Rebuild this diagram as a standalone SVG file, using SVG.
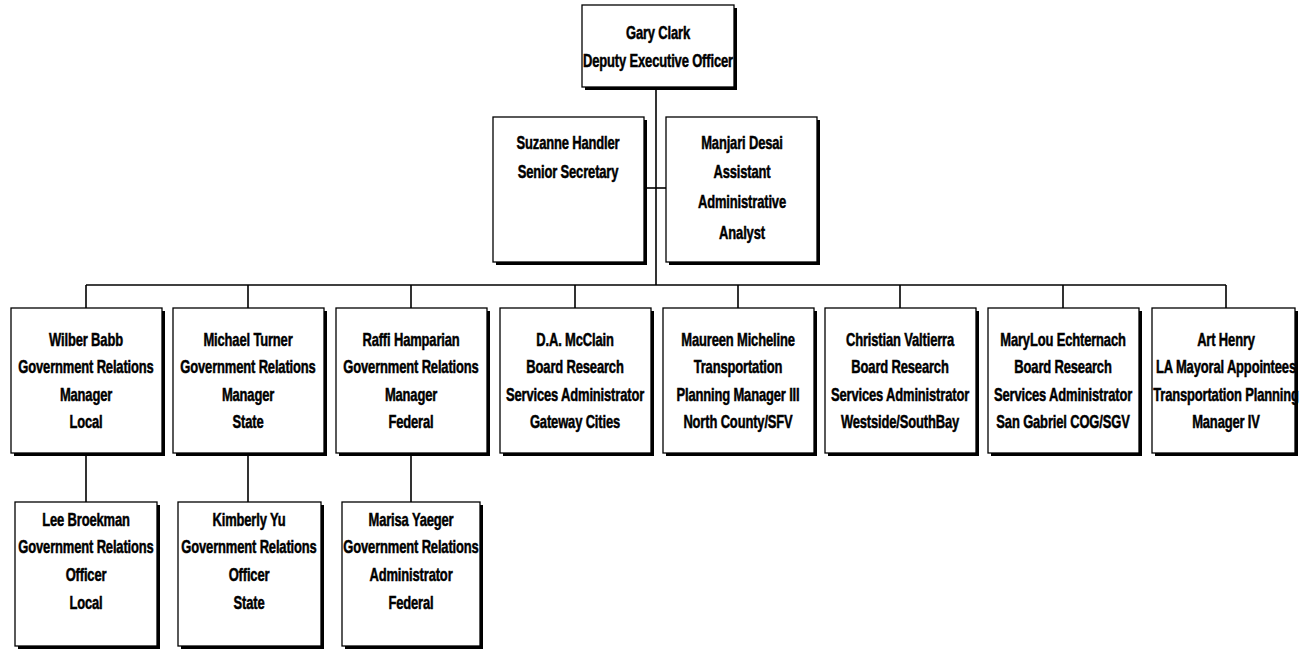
<svg xmlns="http://www.w3.org/2000/svg" width="1300" height="652" viewBox="0 0 1300 652">
<style>
.sh{fill:#000}
.bx{fill:#fff;stroke:#000;stroke-width:1.3}
.t{font-family:"Liberation Sans Narrow","Liberation Sans",Arial,sans-serif;font-weight:bold;font-size:18px;text-anchor:middle;fill:#000;stroke:#000;stroke-width:0.5;letter-spacing:-0.2px}
.c{stroke:#000;stroke-width:1.6;fill:none}
</style>
<rect width="1300" height="652" fill="#fff"/>
<g id="connectors">
<path class="c" d="M656,87 V285"/>
<path class="c" d="M644,188 H666"/>
<path class="c" d="M86,285 H1226"/>
<path class="c" d="M86,285 V308 M248,285 V308 M411,285 V308 M575,285 V308 M738,285 V308 M900,285 V308 M1063,285 V308 M1226,285 V308"/>
<path class="c" d="M86,453 V502 M248,453 V502 M411,453 V502"/>
</g>
<g id="gary">
<rect class="sh" x="585" y="8" width="152" height="82"/>
<rect class="bx" x="582" y="5" width="152" height="82"/>
<g transform="translate(658 0) scale(0.72 1)">
<text class="t" x="0" y="39">Gary Clark</text>
<text class="t" x="0" y="67">Deputy Executive Officer</text>
</g>
</g>
<g id="suzanne">
<rect class="sh" x="496" y="120" width="151" height="145"/>
<rect class="bx" x="493" y="117" width="151" height="145"/>
<g transform="translate(568 0) scale(0.72 1)">
<text class="t" x="0" y="149">Suzanne Handler</text>
<text class="t" x="0" y="178">Senior Secretary</text>
</g>
</g>
<g id="manjari">
<rect class="sh" x="669" y="120" width="151" height="145"/>
<rect class="bx" x="666" y="117" width="151" height="145"/>
<g transform="translate(742 0) scale(0.72 1)">
<text class="t" x="0" y="149">Manjari Desai</text>
<text class="t" x="0" y="178">Assistant</text>
<text class="t" x="0" y="208">Administrative</text>
<text class="t" x="0" y="239">Analyst</text>
</g>
</g>
<g id="wilber">
<rect class="sh" x="14" y="311" width="151" height="145"/>
<rect class="bx" x="11" y="308" width="151" height="145"/>
<g transform="translate(86 0) scale(0.72 1)">
<text class="t" x="0" y="346">Wilber Babb</text>
<text class="t" x="0" y="373">Government Relations</text>
<text class="t" x="0" y="401">Manager</text>
<text class="t" x="0" y="428">Local</text>
</g>
</g>
<g id="michael">
<rect class="sh" x="176" y="311" width="151" height="145"/>
<rect class="bx" x="173" y="308" width="151" height="145"/>
<g transform="translate(248 0) scale(0.72 1)">
<text class="t" x="0" y="346">Michael Turner</text>
<text class="t" x="0" y="373">Government Relations</text>
<text class="t" x="0" y="401">Manager</text>
<text class="t" x="0" y="428">State</text>
</g>
</g>
<g id="raffi">
<rect class="sh" x="339" y="311" width="151" height="145"/>
<rect class="bx" x="336" y="308" width="151" height="145"/>
<g transform="translate(411 0) scale(0.72 1)">
<text class="t" x="0" y="346">Raffi Hamparian</text>
<text class="t" x="0" y="373">Government Relations</text>
<text class="t" x="0" y="401">Manager</text>
<text class="t" x="0" y="428">Federal</text>
</g>
</g>
<g id="mcclain">
<rect class="sh" x="503" y="311" width="151" height="145"/>
<rect class="bx" x="500" y="308" width="151" height="145"/>
<g transform="translate(575 0) scale(0.72 1)">
<text class="t" x="0" y="346">D.A. McClain</text>
<text class="t" x="0" y="373">Board Research</text>
<text class="t" x="0" y="401">Services Administrator</text>
<text class="t" x="0" y="428">Gateway Cities</text>
</g>
</g>
<g id="maureen">
<rect class="sh" x="666" y="311" width="151" height="145"/>
<rect class="bx" x="663" y="308" width="151" height="145"/>
<g transform="translate(738 0) scale(0.72 1)">
<text class="t" x="0" y="346">Maureen Micheline</text>
<text class="t" x="0" y="373">Transportation</text>
<text class="t" x="0" y="401">Planning Manager III</text>
<text class="t" x="0" y="428">North County/SFV</text>
</g>
</g>
<g id="christian">
<rect class="sh" x="828" y="311" width="151" height="145"/>
<rect class="bx" x="825" y="308" width="151" height="145"/>
<g transform="translate(900 0) scale(0.72 1)">
<text class="t" x="0" y="346">Christian Valtierra</text>
<text class="t" x="0" y="373">Board Research</text>
<text class="t" x="0" y="401">Services Administrator</text>
<text class="t" x="0" y="428">Westside/SouthBay</text>
</g>
</g>
<g id="marylou">
<rect class="sh" x="991" y="311" width="151" height="145"/>
<rect class="bx" x="988" y="308" width="151" height="145"/>
<g transform="translate(1063 0) scale(0.72 1)">
<text class="t" x="0" y="346">MaryLou Echternach</text>
<text class="t" x="0" y="373">Board Research</text>
<text class="t" x="0" y="401">Services Administrator</text>
<text class="t" x="0" y="428">San Gabriel COG/SGV</text>
</g>
</g>
<g id="art">
<rect class="sh" x="1155" y="311" width="143" height="145"/>
<rect class="bx" x="1152" y="308" width="143" height="145"/>
<g transform="translate(1226 0) scale(0.72 1)">
<text class="t" x="0" y="346">Art Henry</text>
<text class="t" x="0" y="373">LA Mayoral Appointees</text>
<text class="t" x="0" y="401">Transportation Planning</text>
<text class="t" x="0" y="428">Manager IV</text>
</g>
</g>
<g id="lee">
<rect class="sh" x="18" y="505" width="142" height="144"/>
<rect class="bx" x="15" y="502" width="142" height="144"/>
<g transform="translate(86 0) scale(0.72 1)">
<text class="t" x="0" y="526">Lee Broekman</text>
<text class="t" x="0" y="553">Government Relations</text>
<text class="t" x="0" y="581">Officer</text>
<text class="t" x="0" y="609">Local</text>
</g>
</g>
<g id="kimberly">
<rect class="sh" x="181" y="505" width="143" height="144"/>
<rect class="bx" x="178" y="502" width="143" height="144"/>
<g transform="translate(249 0) scale(0.72 1)">
<text class="t" x="0" y="526">Kimberly Yu</text>
<text class="t" x="0" y="553">Government Relations</text>
<text class="t" x="0" y="581">Officer</text>
<text class="t" x="0" y="609">State</text>
</g>
</g>
<g id="marisa">
<rect class="sh" x="345" y="505" width="138" height="144"/>
<rect class="bx" x="342" y="502" width="138" height="144"/>
<g transform="translate(411 0) scale(0.72 1)">
<text class="t" x="0" y="526">Marisa Yaeger</text>
<text class="t" x="0" y="553">Government Relations</text>
<text class="t" x="0" y="581">Administrator</text>
<text class="t" x="0" y="609">Federal</text>
</g>
</g>
</svg>
